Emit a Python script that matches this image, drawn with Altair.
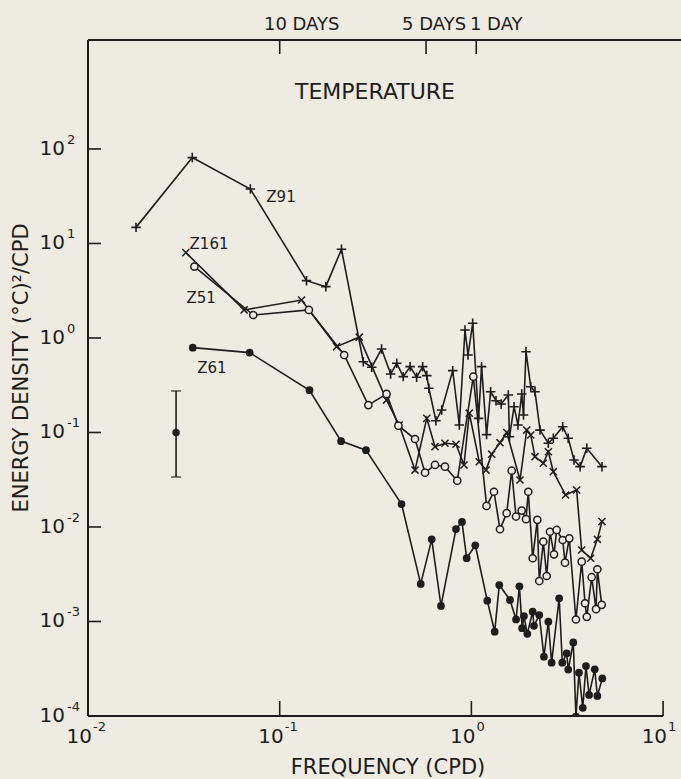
import altair as alt
import pandas as pd

# ---------------- data: spectral energy density of temperature ----------------
# Z91 (plus markers)
z91_freq = [0.0178, 0.035, 0.0703, 0.138, 0.174, 0.210, 0.273, 0.302, 0.340, 0.379,
            0.408, 0.441, 0.479, 0.518, 0.557, 0.585, 0.60, 0.653, 0.70, 0.799,
            0.865, 0.926, 0.96, 1.016, 1.09, 1.13, 1.20, 1.26, 1.344, 1.43,
            1.558, 1.58, 1.669, 1.75, 1.83, 1.87, 1.927, 2.04, 2.147, 2.28,
            2.52, 2.675, 2.995, 3.20, 3.43, 3.69, 4.0, 4.8]
z91_energy = [14.8, 81, 37.7, 4.04, 3.49, 8.69, 0.56, 0.49, 0.765, 0.416,
              0.54, 0.39, 0.497, 0.384, 0.497, 0.40, 0.294, 0.133, 0.173, 0.451,
              0.12, 1.215, 0.66, 1.43, 0.141, 0.497, 0.095, 0.27, 0.217, 0.20,
              0.249, 0.09, 0.1875, 0.12, 0.255, 0.153, 0.716, 0.305, 0.27, 0.106,
              0.0769, 0.0868, 0.115, 0.0868, 0.0512, 0.0435, 0.068, 0.0435]

# Z161 (cross markers)
z161_freq = [0.0324, 0.0652, 0.130, 0.198, 0.26, 0.361, 0.42, 0.508, 0.585, 0.646,
             0.728, 0.831, 0.915, 0.975, 1.099, 1.192, 1.276, 1.41, 1.53, 1.793,
             1.944, 2.04, 2.147, 2.372, 2.52, 2.675, 3.10, 3.54, 3.76, 4.19,
             4.54, 4.8]
z161_energy = [8.0, 1.98, 2.52, 0.81, 1.02, 0.22, 0.12, 0.040, 0.141, 0.0708,
               0.0769, 0.075, 0.0453, 0.16, 0.049, 0.040, 0.059, 0.078, 0.10, 0.0314,
               0.106, 0.094, 0.0555, 0.0472, 0.0626, 0.0385, 0.0218, 0.0246, 0.0057, 0.00467,
               0.0074, 0.0114]

# Z51 (open circles)
z51_freq = [0.0359, 0.0728, 0.142, 0.217, 0.29, 0.361, 0.416, 0.508, 0.573, 0.646,
            0.728, 0.844, 1.023, 1.20, 1.312, 1.41, 1.528, 1.623, 1.709, 1.83,
            1.927, 1.98, 2.088, 2.207, 2.26, 2.372, 2.471, 2.57, 2.697, 2.786,
            2.995, 3.078, 3.24, 3.51, 3.762, 3.915, 4.0, 4.24, 4.47, 4.54,
            4.785]
z51_energy = [5.69, 1.75, 1.98, 0.66, 0.195, 0.256, 0.118, 0.0853, 0.0376, 0.0453,
              0.0435, 0.0309, 0.389, 0.0167, 0.0236, 0.00946, 0.014, 0.0394, 0.0129, 0.0149,
              0.0121, 0.0236, 0.00467, 0.0119, 0.00268, 0.00699, 0.00303, 0.0089, 0.00514, 0.0093,
              0.00728, 0.00419, 0.00759, 0.00105, 0.0043, 0.00156, 0.00112, 0.00294, 0.00135, 0.00357,
              0.0015]

# Z61 (filled circles)
z61_freq = [0.0352, 0.0697, 0.143, 0.209, 0.282, 0.432, 0.544, 0.621, 0.694, 0.831,
            0.893, 0.945, 1.048, 1.21, 1.323, 1.398, 1.59, 1.71, 1.78, 1.84,
            1.88, 1.957, 2.088, 2.12, 2.26, 2.39, 2.52, 2.62, 2.87, 2.98,
            3.14, 3.20, 3.40, 3.51, 3.64, 3.81, 3.96, 4.11, 4.40, 4.54,
            4.82]
z61_energy = [0.79, 0.70, 0.28, 0.081, 0.065, 0.0175, 0.0025, 0.0074, 0.00146, 0.0095,
              0.0113, 0.00467, 0.0064, 0.00166, 0.00078, 0.00243, 0.00169, 0.00105, 0.00236, 0.00085,
              0.00114, 0.00074, 0.00127, 0.0009, 0.00117, 0.000424, 0.000995, 0.000367, 0.00176, 0.000367,
              0.00046, 0.00031, 0.0006, 0.0000985, 0.000287, 0.000122, 0.000338, 0.000167, 0.000312, 0.000163,
              0.00025]

# representative confidence interval
errbar_freq = [0.0288]
errbar_mid = [0.1]
errbar_low = [0.0338]
errbar_high = [0.275]

# series labels and their anchor points (freq, energy)
series_labels = ["Z91", "Z161", "Z51", "Z61"]
series_label_freq = [0.1016, 0.0428, 0.0389, 0.0443]
series_label_energy = [31, 9.9, 2.68, 0.48]

# axes
x_ticks = [0.01, 0.1, 1, 10]
x_exponents = ["-2", "-1", "0", "1"]
y_ticks = [1e-3, 1e-2, 1e-1, 1, 10, 100]
y_label_values = [1e-4, 1e-3, 1e-2, 1e-1, 1, 10, 100]
y_exponents = ["-4", "-3", "-2", "-1", "0", "1", "2"]
period_ticks = [0.1, 0.58, 1.06]
period_labels = ["10 DAYS", "5 DAYS", "1 DAY"]

# ---------------- styling ----------------
INK = "#1d1d1b"
PAPER = "#eeebe2"
FONT = "DejaVu Sans"
W, H = 593, 676
X_MAX = 12.4
Y_MAX = 1422

xs = alt.Scale(type="log", domain=[0.01, X_MAX], nice=False)
ys = alt.Scale(type="log", domain=[1e-4, Y_MAX], nice=False)


def frame(freq, energy, name):
    return pd.DataFrame({"freq": freq, "energy": energy,
                         "order": list(range(len(freq))), "station": name})


series = {
    "Z91": frame(z91_freq, z91_energy, "Z91"),
    "Z161": frame(z161_freq, z161_energy, "Z161"),
    "Z51": frame(z51_freq, z51_energy, "Z51"),
    "Z61": frame(z61_freq, z61_energy, "Z61"),
}

X = lambda f="freq": alt.X(f"{f}:Q", scale=xs, axis=None)
Y = lambda f="energy": alt.Y(f"{f}:Q", scale=ys, axis=None)

layers = []

# connecting lines
for name, df in series.items():
    layers.append(
        alt.Chart(df).mark_line(color=INK, strokeWidth=1.6, clip=True)
        .encode(x=X(), y=Y(), order="order:Q")
    )

plus_path = "M-1,0L1,0M0,-1L0,1"
cross_path = "M-1,-1L1,1M-1,1L1,-1"

layers.append(alt.Chart(series["Z91"]).mark_point(
    shape=plus_path, size=90, filled=False, color=INK, strokeWidth=1.6, opacity=1, clip=True
).encode(x=X(), y=Y()))
layers.append(alt.Chart(series["Z161"]).mark_point(
    shape=cross_path, size=50, filled=False, color=INK, strokeWidth=1.5, opacity=1, clip=True
).encode(x=X(), y=Y()))
layers.append(alt.Chart(series["Z51"]).mark_point(
    shape="circle", size=52, filled=True, fill=PAPER, stroke=INK, strokeWidth=1.5,
    opacity=1, fillOpacity=1, clip=True
).encode(x=X(), y=Y()))
layers.append(alt.Chart(series["Z61"]).mark_point(
    shape="circle", size=60, filled=True, color=INK, opacity=1, clip=True
).encode(x=X(), y=Y()))

# error bar
eb = pd.DataFrame({"freq": errbar_freq, "mid": errbar_mid, "low": errbar_low, "high": errbar_high})
layers.append(alt.Chart(eb).mark_rule(color=INK, strokeWidth=1.6).encode(
    x=X(), y=Y("low"), y2="high:Q"))
for col in ["low", "high"]:
    layers.append(alt.Chart(eb).mark_tick(color=INK, orient="horizontal", size=10, thickness=1.6).encode(
        x=X(), y=Y(col)))
layers.append(alt.Chart(eb).mark_point(shape="circle", size=55, filled=True, color=INK, opacity=1).encode(
    x=X(), y=Y("mid")))

# series labels
lab = pd.DataFrame({"label": series_labels, "freq": series_label_freq, "energy": series_label_energy})
layers.append(alt.Chart(lab).mark_text(font=FONT, fontSize=15, color=INK).encode(
    x=X(), y=Y(), text="label:N"))

# title inside the plot
layers.append(alt.Chart(pd.DataFrame({"t": ["TEMPERATURE"]})).mark_text(
    font=FONT, fontSize=22, color=INK).encode(
    x=alt.value(287), y=alt.value(52), text="t:N"))

# frame lines
left_line = pd.DataFrame({"freq": [0.01], "e0": [1e-4], "e1": [Y_MAX]})
layers.append(alt.Chart(left_line).mark_rule(color=INK, strokeWidth=2).encode(
    x=X(), y=Y("e0"), y2="e1:Q"))
bottom_line = pd.DataFrame({"f0": [0.01], "f1": [10], "energy": [1e-4]})
layers.append(alt.Chart(bottom_line).mark_rule(color=INK, strokeWidth=2).encode(
    x=X("f0"), x2="f1:Q", y=Y()))
top_line = pd.DataFrame({"f0": [0.01], "f1": [X_MAX], "energy": [Y_MAX]})
layers.append(alt.Chart(top_line).mark_rule(color=INK, strokeWidth=2).encode(
    x=X("f0"), x2="f1:Q", y=Y()))

# inward tick marks
xt = pd.DataFrame({"freq": x_ticks, "exp": x_exponents})
layers.append(alt.Chart(xt).mark_rule(color=INK, strokeWidth=1.6).encode(
    x=X(), y=alt.value(H), y2=alt.value(H - 15)))
yt = pd.DataFrame({"energy": y_ticks})
layers.append(alt.Chart(yt).mark_rule(color=INK, strokeWidth=1.6).encode(
    y=Y(), x=alt.value(0), x2=alt.value(13)))
pt = pd.DataFrame({"freq": period_ticks, "label": period_labels})
layers.append(alt.Chart(pt).mark_rule(color=INK, strokeWidth=1.6).encode(
    x=X(), y=alt.value(0), y2=alt.value(14)))

# period labels along the top
period_dx = [22, 8, 20]
for i in range(len(period_labels)):
    layers.append(alt.Chart(pt.iloc[[i]]).mark_text(
        font=FONT, fontSize=18, color=INK, dx=period_dx[i], baseline="middle").encode(
        x=X(), y=alt.value(-15), text="label:N"))

# bottom tick labels: "10" with a raised exponent
layers.append(alt.Chart(xt).mark_text(font=FONT, fontSize=20, color=INK, align="right",
                                      baseline="middle", dx=4).encode(
    x=X(), y=alt.value(H + 21), text=alt.value("10")))
layers.append(alt.Chart(xt).mark_text(font=FONT, fontSize=13, color=INK, align="left",
                                      baseline="middle", dx=5).encode(
    x=X(), y=alt.value(H + 11), text="exp:N"))

# left tick labels
yl = pd.DataFrame({"energy": y_label_values, "exp": y_exponents})
layers.append(alt.Chart(yl).mark_text(font=FONT, fontSize=20, color=INK, align="right",
                                      baseline="middle", dy=0).encode(
    y=Y(), x=alt.value(-23), text=alt.value("10")))
layers.append(alt.Chart(yl).mark_text(font=FONT, fontSize=13, color=INK, align="left",
                                      baseline="middle", dy=-9).encode(
    y=Y(), x=alt.value(-21), text="exp:N"))

# axis titles
layers.append(alt.Chart(pd.DataFrame({"t": ["FREQUENCY (CPD)"]})).mark_text(
    font=FONT, fontSize=21, color=INK).encode(
    x=alt.value(300), y=alt.value(H + 52), text="t:N"))
layers.append(alt.Chart(pd.DataFrame({"t": ["ENERGY DENSITY (°C)²/CPD"]})).mark_text(
    font=FONT, fontSize=21, color=INK, angle=270).encode(
    x=alt.value(-66), y=alt.value(328), text="t:N"))

chart = alt.layer(*layers).properties(
    width=W, height=H,
    background=PAPER,
    padding={"left": 88, "top": 40, "right": 0, "bottom": 63},
    autosize=alt.AutoSizeParams(type="none"),
).configure_view(stroke=None)

chart.save("out.html", embed_options={"renderer": "svg", "actions": False})
